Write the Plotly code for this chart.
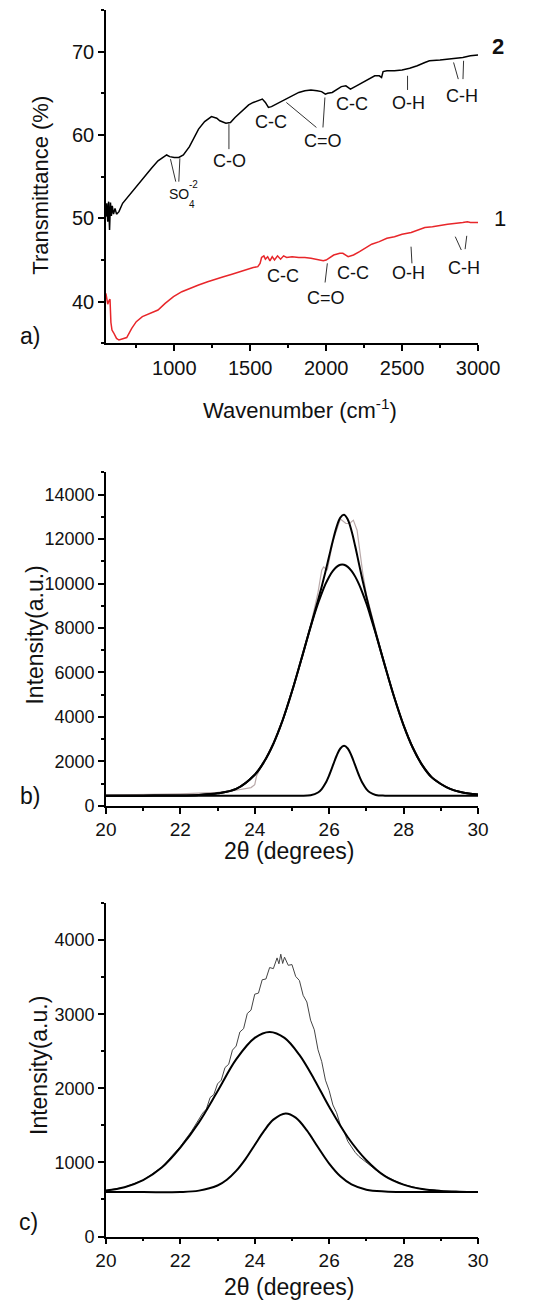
import plotly.graph_objects as go

W, H = 547, 1312
FONT = "Liberation Sans, Arial, sans-serif"

# ---------------- Panel a: FTIR ----------------
wn_2 = [550, 556, 562, 568, 574, 580, 586, 592, 600, 610, 620, 636, 660, 687, 720, 749, 780, 811,
        850, 893, 924, 950, 970, 1000, 1030, 1060, 1100, 1160, 1200, 1245, 1280, 1300, 1340, 1370,
        1400, 1430, 1460, 1490, 1520, 1550, 1580, 1600, 1620, 1640, 1670, 1700, 1740, 1780, 1820,
        1860, 1900, 1940, 1970, 1995, 2010, 2040, 2070, 2100, 2130, 2160, 2200, 2240, 2280, 2320,
        2350, 2365, 2375, 2400, 2450, 2500, 2550, 2600, 2650, 2680, 2750, 2800, 2850, 2900, 2950, 3000]
t_2 = [50.2, 51.8, 49.6, 52.0, 48.6, 51.9, 50.3, 51.5, 50.5, 51.2, 50.5, 50.8, 51.8, 52.4, 53.2, 53.8,
       54.5, 55.2, 56.0, 56.9, 57.3, 57.6, 57.4, 57.3, 57.3, 57.6, 58.6, 60.7, 61.6, 62.2, 62.0, 61.7,
       61.4, 61.5, 62.1, 62.6, 63.2, 63.6, 63.9, 64.1, 64.3, 63.9, 63.3, 63.4, 63.7, 64.0, 64.4, 64.8,
       65.1, 65.3, 65.4, 65.3, 65.2, 64.9, 65.0, 65.1, 65.4, 65.8, 65.9, 65.5, 65.9, 66.3, 66.8, 67.1,
       67.1, 66.9, 67.6, 67.7, 67.7, 67.8, 68.0, 68.3, 68.7, 68.9, 69.0, 69.1, 69.2, 69.3, 69.5, 69.6]

wn_1 = [550, 556, 562, 570, 577, 583, 590, 600, 610, 620, 636, 660, 687, 720, 750, 790, 840, 893, 940,
        995, 1050, 1100, 1160, 1220, 1280, 1324, 1380, 1430, 1488, 1520, 1550, 1565, 1575, 1590, 1600,
        1615, 1630, 1645, 1660, 1680, 1700, 1720, 1740, 1776, 1820, 1860, 1900, 1950, 1981, 2000, 2020,
        2050, 2090, 2110, 2145, 2180, 2220, 2260, 2300, 2350, 2400, 2450, 2500, 2560, 2600, 2650, 2700,
        2800, 2900, 2930, 2950, 3000]
t_1 = [41.0, 40.2, 39.7, 40.1, 40.3, 37.5, 36.6, 36.3, 36.0, 35.6, 35.4, 35.5, 35.7, 36.8, 37.6, 38.2,
       38.6, 39.0, 39.8, 40.6, 41.2, 41.6, 42.0, 42.4, 42.7, 43.0, 43.3, 43.6, 43.9, 44.1, 44.2, 44.6,
       45.3, 45.5, 45.1, 45.4, 44.9, 45.4, 45.0, 45.5, 45.1, 45.5, 45.3, 45.4, 45.3, 45.3, 45.2, 45.0,
       44.9, 45.0, 45.2, 45.6, 45.8, 45.8, 45.4, 45.6, 46.0, 46.5, 46.9, 47.2, 47.6, 47.8, 48.1, 48.3,
       48.6, 48.9, 49.0, 49.3, 49.5, 49.6, 49.5, 49.5]

# ---------------- Panel b: XRD with fit ----------------
tt_b = [20, 21, 22, 22.5, 23, 23.5, 24, 24.25, 24.5, 24.75, 25, 25.25, 25.5, 25.7, 25.8, 25.9, 26.0,
        26.1, 26.2, 26.3, 26.4, 26.5, 26.6, 26.7, 26.8, 26.9, 27.0, 27.1, 27.25, 27.5, 27.75, 28,
        28.25, 28.5, 28.75, 29, 29.25, 29.5, 29.75, 30]
b_broad = [455, 458, 465, 490, 560, 760, 1400, 1980, 2790, 3850, 5140, 6580, 8040, 9100, 9560, 9970,
           10310, 10570, 10750, 10840, 10840, 10750, 10570, 10310, 9970, 9560, 9100, 8580, 7750, 6290,
           4870, 3620, 2600, 1830, 1290, 980, 760, 630, 550, 510]
b_narrow = [450, 450, 450, 450, 450, 450, 450, 450, 450, 450, 450, 451, 475, 598, 755, 1011, 1375,
            1815, 2251, 2578, 2700, 2578, 2251, 1815, 1375, 1011, 755, 598, 490, 455, 450, 450, 450,
            450, 450, 450, 450, 450, 450, 450]
b_sum = [455, 458, 465, 490, 560, 760, 1400, 1980, 2790, 3850, 5140, 6581, 8065, 9248, 9865, 10531,
         11235, 11935, 12551, 12968, 13090, 12878, 12371, 11675, 10895, 10121, 9405, 8728, 7790, 6295,
         4870, 3620, 2600, 1830, 1290, 980, 760, 630, 550, 510]
tt_b_raw = [20, 20.5, 21, 21.5, 22, 22.5, 23, 23.5, 23.9, 24.0, 24.05, 24.25, 24.5, 24.75, 25.0, 25.25,
            25.5, 25.7, 25.8, 25.85, 25.95, 26.1, 26.3, 26.45, 26.55, 26.65, 26.75, 26.9, 27.0, 27.25,
            27.5, 27.75, 28.0, 28.25, 28.5, 28.75, 29.0, 29.25, 29.5, 29.75, 30]
b_raw = [480, 490, 500, 520, 540, 570, 610, 700, 820, 950, 1350, 2000, 2850, 3900, 5200, 6500, 8100,
         9600, 10600, 10750, 10600, 11900, 12900, 12700, 12700, 12850, 12400, 10500, 9500, 7900, 6300,
         4900, 3650, 2650, 1850, 1320, 1000, 780, 640, 560, 520]

# ---------------- Panel c: XRD with fit ----------------
tt_c = [20, 20.5, 21, 21.5, 22, 22.5, 23, 23.5, 24, 24.4, 24.8, 25.2, 25.6, 26, 26.5, 27, 27.5, 28,
        28.5, 29, 29.5, 30]
c_broad = [620, 665, 760, 930, 1200, 1540, 1960, 2390, 2680, 2760, 2680, 2450, 2120, 1750, 1340, 1030,
           815, 700, 640, 615, 605, 600]
tt_c_n = [20, 21, 22, 22.5, 23, 23.25, 23.5, 23.75, 24, 24.25, 24.5, 24.83, 25.1, 25.4, 25.7, 26.0,
          26.3, 26.6, 27, 27.5, 28, 29, 30]
c_narrow = [600, 600, 600, 619, 688, 766, 885, 1045, 1235, 1425, 1577, 1660, 1604, 1432, 1204, 983,
            812, 703, 632, 607, 600, 600, 600]
tt_c_raw = [20, 20.5, 21, 21.5, 22, 22.3, 22.6, 22.7, 22.8, 22.9, 23.0, 23.1, 23.2, 23.3, 23.4, 23.5,
            23.6, 23.7, 23.8, 23.9, 24.0, 24.1, 24.2, 24.3, 24.4, 24.5, 24.6, 24.65, 24.7, 24.75, 24.8,
            24.9, 25.0, 25.1, 25.2, 25.3, 25.4, 25.5, 25.6, 25.7, 25.8, 25.9, 26.0, 26.1, 26.2, 26.3,
            26.4, 26.5, 26.6, 26.7, 26.8, 27.0, 27.3, 27.6, 28.0, 28.5, 29.0, 29.5, 30.0]
c_raw = [620, 665, 760, 935, 1215, 1420, 1665, 1720, 1875, 1915, 2060, 2110, 2280, 2325, 2515, 2570,
         2760, 2805, 3010, 3055, 3270, 3285, 3465, 3475, 3630, 3615, 3760, 3680, 3810, 3685, 3770,
         3660, 3670, 3510, 3455, 3255, 3165, 2920, 2790, 2520, 2360, 2110, 1970, 1775, 1670, 1505,
         1415, 1285, 1210, 1135, 1080, 1000, 880, 790, 700, 640, 615, 605, 600]


def px(x):
    return x / W


def py(y):
    return 1 - y / H


fig = go.Figure()

# Panel a traces
fig.add_trace(go.Scatter(x=wn_2, y=t_2, mode="lines", line=dict(color="black", width=1.5),
                         xaxis="x", yaxis="y", showlegend=False))
fig.add_trace(go.Scatter(x=wn_1, y=t_1, mode="lines", line=dict(color="#e8262a", width=1.5),
                         xaxis="x", yaxis="y", showlegend=False))

# Panel b traces
fig.add_trace(go.Scatter(x=tt_b_raw, y=b_raw, mode="lines", line=dict(color="#b9a9a9", width=1.2),
                         xaxis="x2", yaxis="y2", showlegend=False))
for yy in (b_broad, b_narrow, b_sum):
    fig.add_trace(go.Scatter(x=tt_b, y=yy, mode="lines", line=dict(color="black", width=2, shape="spline"),
                             xaxis="x2", yaxis="y2", showlegend=False))

# Panel c traces
fig.add_trace(go.Scatter(x=tt_c_raw, y=c_raw, mode="lines", line=dict(color="#444444", width=1),
                         xaxis="x3", yaxis="y3", showlegend=False))
fig.add_trace(go.Scatter(x=tt_c, y=c_broad, mode="lines", line=dict(color="black", width=2, shape="spline"),
                         xaxis="x3", yaxis="y3", showlegend=False))
fig.add_trace(go.Scatter(x=tt_c_n, y=c_narrow, mode="lines", line=dict(color="black", width=2, shape="spline"),
                         xaxis="x3", yaxis="y3", showlegend=False))


def axis(size, **kw):
    d = dict(showline=True, linecolor="black", linewidth=1.5, ticks="outside", ticklen=6,
             tickwidth=1.5, tickcolor="black", showgrid=False, zeroline=False,
             tickformat="d", exponentformat="none",
             tickfont=dict(family=FONT, size=size, color="#111"))
    d.update(kw)
    return d


def minor(step):
    return dict(dtick=step, ticklen=3, tickwidth=1.5, ticks="outside", tickcolor="black")


xdom = [px(101), px(497)]

fig.update_layout(
    width=W, height=H, autosize=False, margin=dict(l=0, r=0, t=0, b=0, pad=0),
    paper_bgcolor="white", plot_bgcolor="white", showlegend=False,
    xaxis=axis(20, domain=xdom, range=[550, 3000], tick0=0, dtick=500, anchor="y", minor=minor(250)),
    yaxis=axis(20, domain=[py(346), py(10)], range=[35, 75], tick0=0, dtick=10, anchor="x", minor=minor(5)),
    xaxis2=axis(19, domain=xdom, range=[20, 30], tick0=0, dtick=2, anchor="y2", minor=minor(1)),
    yaxis2=axis(18, domain=[py(812), py(476)], range=[0, 15000], tick0=0, dtick=2000, anchor="x2",
                minor=minor(1000)),
    xaxis3=axis(19, domain=xdom, range=[20, 30], tick0=0, dtick=2, anchor="y3", minor=minor(1)),
    yaxis3=axis(18, domain=[py(1246), py(910)], range=[0, 4500], tick0=0, dtick=1000, anchor="x3",
                minor=minor(500)),
)

ann = []


def paper_text(text, x, y, size, angle=0, bold=False):
    ann.append(dict(text=("<b>%s</b>" % text) if bold else text, x=px(x), y=py(y), xref="paper",
                    yref="paper", xanchor="center", yanchor="middle", showarrow=False,
                    textangle=angle, font=dict(family=FONT, size=size, color="#111")))


# axis titles and panel letters
paper_text("Transmittance (%)", 32, 187, 22, angle=-90)
paper_text("Wavenumber (cm<sup>-1</sup>)", 308, 412, 22)
paper_text("Intensity(a.u.)", 26, 640, 23, angle=-90)
paper_text("2\u03b8 (degrees)", 296, 858, 23)
paper_text("Intensity(a.u.)", 30, 1074, 23, angle=-90)
paper_text("2\u03b8 (degrees)", 296, 1297, 23)
paper_text("a)", 20, 339, 23)
paper_text("b)", 20, 802, 23)
paper_text("c)", 19, 1231, 23)
paper_text("2", 518, 47, 22, bold=True)
paper_text("1", 520, 220, 22)

# band labels (data coordinates of panel a)
band_labels = [
    ("C-O", 1367, 56.9), ("C-C", 1639, 61.5), ("C=O", 1979, 59.3), ("C-C", 2171, 63.7),
    ("O-H", 2542, 63.8), ("C-H", 2895, 64.7),
    ("C-C", 1719, 43.1), ("C=O", 1998, 40.5), ("C-C", 2177, 43.4), ("O-H", 2542, 43.4),
    ("C-H", 2905, 44.0),
]
for t, x, y in band_labels:
    ann.append(dict(text=t, x=x, y=y, xref="x", yref="y", showarrow=False, xanchor="center",
                    yanchor="middle", font=dict(family=FONT, size=18, color="#111")))
ann.append(dict(text="SO", x=1030, y=52.9, xref="x", yref="y", showarrow=False, xanchor="center",
                yanchor="middle", font=dict(family=FONT, size=14, color="#111")))
ann.append(dict(text="4", x=1115, y=51.7, xref="x", yref="y", showarrow=False, xanchor="center",
                yanchor="middle", font=dict(family=FONT, size=10, color="#111")))
ann.append(dict(text="-2", x=1130, y=54.0, xref="x", yref="y", showarrow=False, xanchor="center",
                yanchor="middle", font=dict(family=FONT, size=10, color="#111")))

leader_lines = [
    (975, 57.1, 1010, 54.4), (1037, 57.2, 1030, 54.4),
    (1360, 61.3, 1360, 58.3),
    (1738, 63.9, 1936, 60.9), (1992, 64.5, 1979, 60.9),
    (2536, 67.1, 2536, 65.4),
    (2839, 68.7, 2870, 66.7), (2905, 68.9, 2901, 66.7),
    (2008, 44.6, 1993, 42.3),
    (2559, 46.6, 2565, 44.6),
    (2850, 47.8, 2890, 46.2), (2926, 47.9, 2915, 46.3),
]
shapes = []
for x0, y0, x1, y1 in leader_lines:
    shapes.append(dict(type="line", xref="x", yref="y", x0=x0, y0=y0, x1=x1, y1=y1,
                       line=dict(color="#333", width=1)))

fig.update_layout(annotations=ann, shapes=shapes)

post = (
    "document.documentElement.style.margin='0';document.documentElement.style.padding='0';"
    "document.documentElement.style.overflow='hidden';"
    "document.body.style.margin='0';document.body.style.padding='0';document.body.style.overflow='hidden';"
    "var gd=document.getElementById('{plot_id}');"
    "Plotly.relayout(gd,{width:%d,height:%d,autosize:false});" % (W, H)
)
fig.write_html("out.html", config={"responsive": False}, post_script=post)
